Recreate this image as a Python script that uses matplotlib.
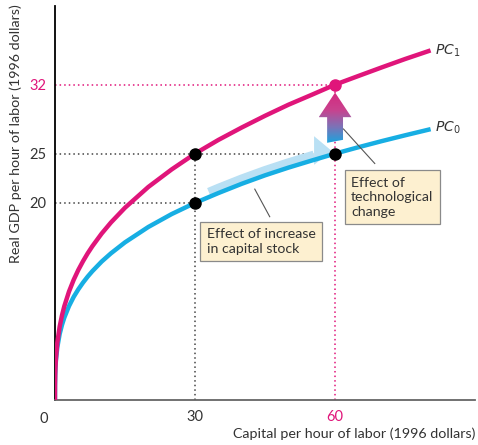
import matplotlib
matplotlib.use('Agg')
import matplotlib.pyplot as plt
import numpy as np
from matplotlib.patches import Polygon
from matplotlib.colors import LinearSegmentedColormap

plt.rcParams['font.family'] = ['Lato', 'DejaVu Sans']

# capital per hour (x) and real GDP per hour (y)
capital = [0, 0.01, 0.05, 0.1, 0.2, 0.5, 1, 1.5, 2, 3, 4, 5, 6, 7, 8, 10, 12,
           15, 20, 25, 30, 35, 40, 45, 50, 55, 60, 65, 70, 75, 80]
pc0 = [0, 1.52, 2.55, 3.19, 3.99, 5.35, 6.69, 7.62, 8.36, 9.53, 10.46, 11.23,
       11.91, 12.52, 13.07, 14.05, 14.89, 16.0, 17.56, 18.87, 20.0, 21.0,
       21.94, 22.8, 23.58, 24.3, 25.0, 25.65, 26.27, 26.86, 27.43]
pc1 = [0, 1.45, 2.56, 3.28, 4.2, 5.81, 7.44, 8.59, 9.52, 11.0, 12.19, 13.2,
       14.08, 14.88, 15.6, 16.89, 18.02, 19.51, 21.62, 23.4, 25.0, 26.39,
       27.65, 28.84, 29.96, 30.97, 32.0, 32.88, 33.75, 34.6, 35.4]

pt_x = [30, 30, 60]
pt_y = [20, 25, 25]
new_pt = (60, 32)

pink = '#e0157a'
blue = '#17aee3'
grey = '#333333'

fig = plt.figure(figsize=(4.78, 4.45), dpi=100)
ax = fig.add_axes([0.115, 0.101, 0.879, 0.886])
ax.set_xlim(0, 90)
ax.set_ylim(0, 40)

# guide lines
dot = dict(ls=(0, (1, 2)), lw=1.1, zorder=1)
ax.plot([0, 60], [25, 25], color='#444444', **dot)
ax.plot([0, 30], [20, 20], color='#444444', **dot)
ax.plot([30, 30], [0, 25], color='#444444', **dot)
ax.plot([0, 60], [32, 32], color=pink, **dot)
ax.plot([60, 60], [0, 32], color=pink, **dot)

# movement along PC0 (light blue band with head)
cx = np.array(capital, dtype=float)
c0 = np.array(pc0)
m = (cx >= 35) & (cx <= 55)
bx = np.concatenate([[33], cx[m], [55.5]])
by = np.interp(bx, cx, c0) + 0.45
ax.plot(bx, by, color='#b9e0f4', lw=7, solid_capstyle='butt', zorder=2)
hy = np.interp(55.5, cx, c0)
ax.add_patch(Polygon([[55.5, hy - 0.5], [55.5, hy + 2.4], [59.3, hy + 0.9]],
                     closed=True, fc='#b9e0f4', ec='none', zorder=2))

ax.plot(capital, pc0, color=blue, lw=3.2, zorder=3)
ax.plot(capital, pc1, color=pink, lw=3.2, zorder=3)

# vertical gradient arrow (technological change)
sw, hw = 1.7, 3.5
yb, yh, yt = 25.9, 28.7, 31.2
arrow = Polygon([[60 - sw, yb + 0.2], [60 + sw, yb + 0.5], [60 + sw, yh],
                 [60 + hw, yh], [60, yt], [60 - hw, yh], [60 - sw, yh]],
                closed=True, fc='none', ec='none')
ax.add_patch(arrow)
grad = np.linspace(0, 1, 100).reshape(-1, 1)
cmap = LinearSegmentedColormap.from_list('tc', ['#0fa9e2', '#7a74b8', '#c9428e', '#d4297f'])
im = ax.imshow(grad, extent=[60 - hw, 60 + hw, yb, yt], origin='lower',
               cmap=cmap, aspect='auto', zorder=2.5)
im.set_clip_path(arrow)
ax.set_xlim(0, 90)
ax.set_ylim(0, 40)

ax.plot(pt_x, pt_y, 'o', color='black', ms=8, zorder=5)
ax.plot(*new_pt, 'o', color=pink, ms=8, zorder=5)

# curve labels
ax.text(81.5, 35.4, r'$PC_1$', color=grey, fontsize=10, va='center')
ax.text(81.5, 27.6, r'$PC_0$', color=grey, fontsize=10, va='center')

# callouts
box = dict(boxstyle='square,pad=0.45', fc='#fdf0d0', ec='#8a8a8a', lw=0.9)
ax.plot([46.0, 42.8], [18.6, 21.4], color='#555555', lw=0.8, zorder=4)
ax.text(32.5, 16.1, 'Effect of increase\nin capital stock', fontsize=10.2,
        color=grey, va='center', ha='left', bbox=box, linespacing=1.25, zorder=6)
ax.plot([68.5, 61.8], [24.0, 27.5], color='#555555', lw=0.8, zorder=4)
ax.text(63.4, 20.6, 'Effect of\ntechnological\nchange', fontsize=10.2,
        color=grey, va='center', ha='left', bbox=box, linespacing=1.25, zorder=6)

# axes styling
for s in ['top', 'right']:
    ax.spines[s].set_visible(False)
ax.spines['left'].set_color('black')
ax.spines['left'].set_linewidth(1.3)
ax.spines['bottom'].set_color('#666666')
ax.spines['bottom'].set_linewidth(1.3)
ax.tick_params(length=0, labelsize=10.5, colors=grey)
ax.set_xticks([30, 60])
ax.set_xticklabels(['30', '60'])
ax.get_xticklabels()[1].set_color(pink)
ax.tick_params(axis='x', pad=7)
ax.set_yticks([20, 25, 32])
ax.set_yticklabels(['20', '25', '32'])
ax.get_yticklabels()[2].set_color(pink)
ax.tick_params(axis='y', pad=6)
ax.text(-2.5, -1.2, '0', fontsize=10.5, color=grey, ha='center', va='top')

fig.text(0.994, 0.012, 'Capital per hour of labor (1996 dollars)',
         ha='right', va='bottom', fontsize=10.3, color=grey)
fig.text(0.032, 0.99, 'Real GDP per hour of labor (1996 dollars)',
         rotation=90, ha='center', va='top', fontsize=10.3, color=grey)

fig.savefig('out.png', dpi=100)
